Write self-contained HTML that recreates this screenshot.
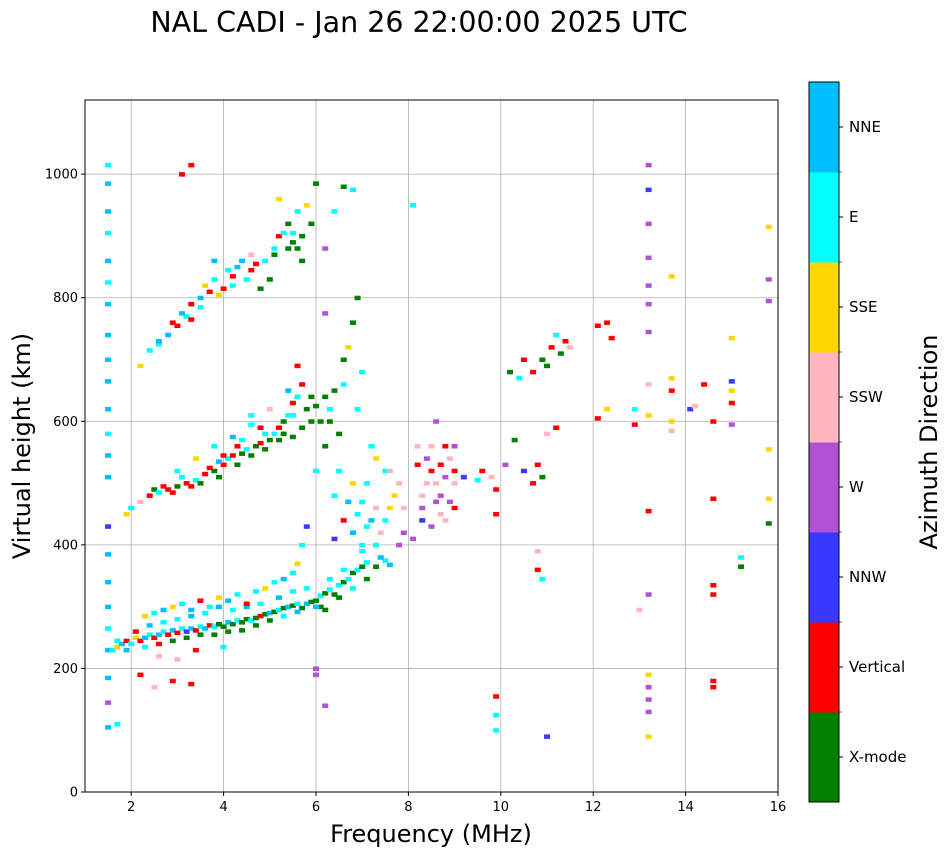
<!DOCTYPE html>
<html><head><meta charset="utf-8">
<style>
body{margin:0;background:#fff;width:951px;height:856px;overflow:hidden;font-family:"DejaVu Sans","Liberation Sans",sans-serif}
svg text{font-family:"DejaVu Sans","Liberation Sans",sans-serif}
</style></head>
<body>
<svg id="chart" width="951" height="856">
<text x="419" y="32" font-size="28.5" text-anchor="middle">NAL CADI - Jan 26 22:00:00 2025 UTC</text>
<g id="grid"></g>
<g id="marks"></g>
<rect x="85" y="100" width="693" height="692" fill="none" stroke="#000" stroke-width="1"/>
<g id="axes"></g>
<text x="431" y="842" font-size="24" text-anchor="middle">Frequency (MHz)</text>
<text x="30" y="446" font-size="24" text-anchor="middle" transform="rotate(-90 30 446)">Virtual height (km)</text>
<g id="cbar"></g>
<text x="937" y="442" font-size="24" text-anchor="middle" transform="rotate(-90 937 442)">Azimuth Direction</text>
</svg>
<script>
const xTicks=[2,4,6,8,10,12,14,16];
const yTicks=[0,200,400,600,800,1000];
const dirNames=["X-mode","Vertical","NNW","W","SSW","SSE","E","NNE"];
const dirColors=["#008000","#ff0000","#3838ff","#b152d6","#ffb6c1","#ffd700","#00ffff","#00bfff"];
// [freq MHz, height km, direction index]
const echoes=[
[1.5,1015,6],[1.5,985,7],[1.5,940,7],[1.5,905,6],[1.5,860,7],[1.5,825,6],[1.5,790,7],[1.5,740,7],[1.5,700,7],[1.5,665,7],[1.5,620,7],[1.5,580,6],[1.5,545,7],[1.5,510,7],[1.5,430,2],[1.5,385,7],[1.5,340,7],[1.5,300,7],[1.5,265,6],[1.5,230,7],[1.5,185,7],[1.5,145,3],[1.5,105,7],[1.7,110,6],
[1.6,230,6],[1.7,235,5],[1.8,240,7],[1.9,245,1],[2.0,240,6],[2.1,250,5],[2.2,245,1],[2.3,250,7],[2.4,255,6],[2.5,250,1],[2.6,255,7],[2.7,260,6],[2.8,255,1],[2.9,262,7],[3.0,258,1],[3.1,265,6],[3.2,260,2],[3.3,265,7],[3.4,262,1],[3.5,268,6],[3.6,265,7],[3.7,270,1],[3.8,268,6],[3.9,272,0],[4.0,268,0],[4.1,275,7],[4.2,272,0],[4.3,278,6],[4.4,275,0],[4.5,280,0],[4.6,278,6],[4.7,282,0],[4.8,285,1],[4.9,288,0],[5.0,290,7],[5.1,292,0],[5.2,295,6],[5.3,298,0],[5.4,300,7],[5.5,302,0],[5.6,305,6],[5.7,298,0],[5.8,305,7],[5.9,308,0],[6.0,310,0],[6.1,318,6],[6.2,322,0],[6.3,328,6],[6.4,320,0],[6.5,335,6],[6.6,340,0],[6.7,345,6],[6.8,355,0],[6.9,360,6],[7.0,365,0],[7.1,372,6],[7.3,365,0],[7.5,375,6],[7.6,368,7],
[1.7,245,6],[1.9,230,7],[2.1,260,1],[2.3,235,6],[2.4,270,7],[2.6,240,1],[2.7,275,6],[2.9,245,0],[3.0,280,6],[3.2,250,0],[3.3,285,7],[3.5,255,0],[3.6,290,6],[3.8,255,0],[3.9,300,7],[4.1,260,0],[4.2,295,6],[4.4,262,0],[4.5,300,7],[4.7,270,0],[4.8,305,6],[5.0,278,0],[5.2,315,7],[5.3,285,6],[5.5,325,6],[5.6,292,7],[5.8,330,6],[6.1,300,0],[6.3,345,6],[6.5,315,0],[6.6,360,6],[6.8,330,6],[7.0,390,6],[7.1,345,0],[7.3,400,6],[6.2,295,0],[6.0,300,7],
[2.3,285,5],[2.5,290,6],[2.7,295,7],[2.9,300,5],[3.1,305,6],[3.3,295,7],[3.5,310,1],[3.7,300,6],[3.9,315,5],[4.1,310,7],[4.3,320,6],[4.5,305,1],[4.7,325,6],[4.9,330,5],[5.1,340,6],[5.3,345,7],[5.5,355,6],[5.6,370,5],[5.7,400,6],[5.8,430,2],[2.6,220,4],[3.0,215,4],[3.4,230,1],[4.0,235,6],[2.2,190,1],[2.9,180,1],[3.3,175,1],[2.5,170,4],
[1.9,450,5],[2.0,460,6],[2.2,470,4],[2.4,480,1],[2.5,490,0],[2.6,485,6],[2.8,490,1],[3.0,495,0],[3.2,500,1],[3.4,505,6],[3.6,515,1],[3.8,520,0],[4.0,530,1],[4.1,540,6],[4.2,545,1],[4.4,548,0],[4.5,555,6],[4.7,560,0],[4.8,565,1],[5.0,570,0],[5.1,580,6],[5.2,590,1],[5.3,600,0],[5.4,610,6],[5.5,630,1],[5.6,640,6],[5.7,660,1],[5.8,620,0],[5.9,600,0],[6.0,625,0],[3.0,520,6],[3.4,540,5],[3.8,560,6],[4.2,575,7],[4.6,595,6],[5.0,620,4],[5.4,650,7],[5.6,690,1],[4.6,610,6],
[2.7,495,1],[2.9,485,1],[3.1,510,6],[3.3,495,1],[3.5,500,0],[3.7,525,1],[3.9,510,0],[4.0,545,1],[4.3,530,0],[4.3,560,1],[4.6,545,0],[4.9,555,0],[4.9,580,6],[5.2,570,0],[5.3,580,0],[5.5,575,0],[5.7,590,0],[5.9,640,0],[3.9,535,7],[4.4,570,6],[4.8,590,1],[5.5,610,6],
[2.2,690,5],[2.4,715,6],[2.6,725,6],[2.8,740,7],[3.0,755,1],[3.2,770,6],[3.3,790,1],[3.5,800,7],[3.6,820,5],[3.8,830,6],[4.0,815,1],[4.1,845,6],[4.2,835,1],[4.4,860,7],[4.6,870,4],[4.8,815,0],[5.0,830,0],[5.1,880,6],[5.2,900,1],[5.3,905,6],[5.4,920,0],[5.5,890,0],[5.6,940,6],[5.7,860,0],[5.8,950,5],[5.9,920,0],[6.0,985,0],[5.2,960,5],[4.6,845,1],[3.8,860,7],[3.3,1015,1],[3.1,1000,1],[6.6,980,0],[6.8,975,6],[6.4,940,6],[8.1,950,6],[6.2,880,3],[6.2,775,3],
[2.6,730,7],[2.9,760,1],[3.1,775,7],[3.3,765,1],[3.5,785,6],[3.7,810,1],[3.9,805,5],[4.2,820,6],[4.3,850,7],[4.5,830,6],[4.7,855,1],[4.9,860,6],[5.1,870,0],[5.4,880,0],[5.5,905,6],[5.7,900,0],[5.6,880,0],
[6.3,620,6],[6.5,580,0],[6.6,700,0],[6.7,720,5],[6.8,760,0],[6.9,800,0],[7.0,680,6],[7.2,560,6],[7.5,520,6],[6.5,520,6],[6.8,500,5],[7.0,470,6],[7.2,440,7],[7.4,420,4],[7.6,460,5],[7.8,500,4],[7.9,420,3],[7.8,400,3],[6.4,410,2],[6.6,440,1],[6.8,420,7],[7.0,400,6],[6.2,560,0],[6.1,600,0],[6.0,520,6],[7.4,380,7],[6.0,200,3],[6.2,140,3],[6.0,190,3],
[6.4,650,0],[6.6,660,6],[6.9,620,6],[7.1,500,6],[7.3,460,4],[7.5,440,6],[7.7,480,5],[7.9,460,4],[7.1,430,6],[6.9,450,6],[6.7,470,7],[6.4,480,6],[6.3,600,0],[6.2,640,0],[7.6,520,4],[7.3,540,5],
[8.2,560,4],[8.4,540,3],[8.5,520,1],[8.6,500,4],[8.7,480,3],[8.8,560,1],[8.9,540,4],[9.0,520,1],[8.5,430,3],[8.7,450,4],[8.9,470,3],[8.3,480,4],[8.6,600,3],[9.0,460,1],[9.2,510,2],[9.5,505,6],[9.6,520,1],[8.1,410,3],[8.3,440,2],
[8.2,530,1],[8.4,500,4],[8.6,470,3],[8.8,510,3],[9.0,560,3],[8.8,440,4],[8.5,560,4],[9.0,500,4],[8.7,530,1],[8.3,460,3],
[9.8,510,4],[9.9,490,1],[10.1,530,3],[10.3,570,0],[10.5,520,2],[10.7,500,1],[10.8,530,1],[10.9,510,0],[11.0,580,4],[11.2,590,1],[9.9,450,1],[10.2,680,0],[10.4,670,6],[10.5,700,1],[10.7,680,1],[10.9,700,0],[11.0,690,0],[11.1,720,1],[11.2,740,6],[11.3,710,0],[11.4,730,1],[11.5,720,4],[10.8,390,4],[10.8,360,1],[10.9,345,6],[9.9,155,1],[9.9,100,6],[9.9,125,6],[11.0,90,2],
[12.1,755,1],[12.3,760,1],[12.4,735,1],[12.3,620,5],[12.1,605,1],[12.9,620,6],[13.0,295,4],[12.9,595,1],[13.2,1015,3],[13.2,975,2],[13.2,920,3],[13.2,865,3],[13.2,820,3],[13.2,790,3],[13.2,745,3],[13.2,660,4],[13.2,610,5],[13.2,455,1],[13.2,320,3],[13.2,190,5],[13.2,170,3],[13.2,150,3],[13.2,130,3],[13.2,90,5],
[13.7,835,5],[13.7,670,5],[13.7,650,1],[13.7,600,5],[13.7,585,4],[14.1,620,2],[14.2,625,4],[14.4,660,1],[14.6,475,1],[14.6,600,1],[14.6,335,1],[14.6,320,1],[14.6,180,1],[14.6,170,1],[15.0,735,5],[15.0,665,2],[15.0,650,5],[15.0,630,1],[15.0,595,3],[15.2,380,6],[15.2,365,0],[15.8,915,5],[15.8,830,3],[15.8,795,3],[15.8,555,5],[15.8,475,5],[15.8,435,0]
];
const NS="http://www.w3.org/2000/svg";
const X0=85,X1=778,Y0=792,Y1=100,XMIN=1,XMAX=16,YMIN=0,YMAX=1120;
const sx=f=>X0+(f-XMIN)/(XMAX-XMIN)*(X1-X0);
const sy=h=>Y0-(h-YMIN)/(YMAX-YMIN)*(Y0-Y1);
function mk(tag,attrs,parent){const e=document.createElementNS(NS,tag);for(const k in attrs)e.setAttribute(k,attrs[k]);parent.appendChild(e);return e;}
const grid=document.getElementById('grid'),axes=document.getElementById('axes'),marks=document.getElementById('marks'),cbar=document.getElementById('cbar');
xTicks.forEach(t=>{const x=sx(t);
 const g=mk('line',{x1:x,x2:x,y1:Y1,y2:Y0,stroke:'#b0b0b0','stroke-width':0.8},grid);
 
 
 mk('line',{x1:x,x2:x,y1:Y0,y2:Y0+4,stroke:'#000'},axes);
 const tx=mk('text',{x:x,y:Y0+19,'font-size':13,'text-anchor':'middle'},axes);tx.textContent=t;
 
 });
yTicks.forEach(t=>{const y=sy(t);
 const g=mk('line',{x1:X0,x2:X1,y1:y,y2:y,stroke:'#b0b0b0','stroke-width':0.8},grid);
 
 
 mk('line',{x1:X0-4,x2:X0,y1:y,y2:y,stroke:'#000'},axes);
 const tx=mk('text',{x:X0-7,y:y+4.5,'font-size':13,'text-anchor':'end'},axes);tx.textContent=t;
 
 });
echoes.forEach(p=>{
 const r=mk('rect',{x:sx(p[0])-3,y:sy(p[1])-2,width:6,height:4.5,fill:dirColors[p[2]]},marks);
 
 });
const CX=809,CW=30,CT=82,CB=802,seg=(CB-CT)/dirNames.length;
dirNames.forEach((n,i)=>{const y=CB-(i+1)*seg;
 const r=mk('rect',{x:CX,y:y,width:CW,height:seg+0.5,fill:dirColors[i]},cbar);
 
 
 mk('line',{x1:CX+CW,x2:CX+CW+4,y1:y+seg/2,y2:y+seg/2,stroke:'#000'},cbar);
 if(i>0)mk('line',{x1:CX+CW,x2:CX+CW+3,y1:CB-i*seg,y2:CB-i*seg,stroke:'#000','stroke-width':0.6},cbar);
 const t=mk('text',{x:CX+CW+10,y:y+seg/2+5,'font-size':15},cbar);t.textContent=n;
 
 });
mk('rect',{x:CX,y:CT,width:CW,height:CB-CT,fill:'none',stroke:'#000'},cbar);
</script>
</body></html>
